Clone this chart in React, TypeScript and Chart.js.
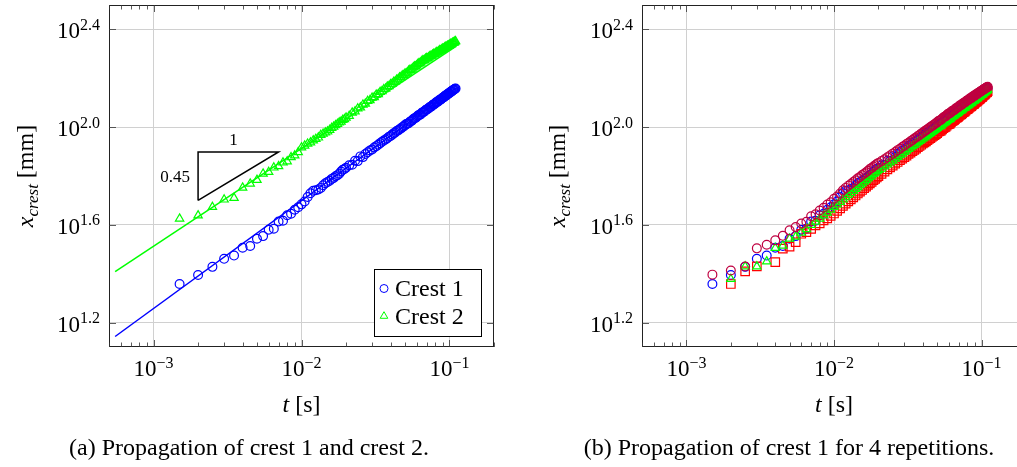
import React, { useEffect, useRef } from "react";
import { Chart, registerables } from "chart.js";

Chart.register(...registerables);

// ---------------- data ----------------
// frame times [ms]
const timesMs = [
  1.5, 2, 2.5, 3, 3.5, 4, 4.5, 5, 5.5, 6,
  6.5, 7, 7.5, 8, 8.5, 9, 9.5, 10, 10.5, 11,
  11.5, 12, 12.5, 13, 13.5, 14, 14.5, 15, 15.5, 16,
  16.5, 17, 17.5, 18, 18.5, 19, 19.5, 20, 21, 22,
  23, 24, 25, 26, 27, 28, 29, 30, 31, 32,
  33, 34, 35, 36, 37, 38, 39, 40, 41, 42,
  43, 44, 45, 46, 47, 48, 49, 50, 51, 52,
  53, 54, 55, 56, 57, 58, 59, 60, 61, 62,
  63, 64, 65, 66, 67, 68, 69, 70, 71, 72,
  73, 74, 75, 76, 77, 78, 79, 80, 81, 82,
  83, 84, 85, 86, 87, 88, 89, 90, 91, 92,
  93, 94, 95, 96, 97, 98, 99, 100, 101, 102,
  103, 104, 105, 106, 107, 108, 109, 110,
];

// crest 1 position [mm] (also repetition 1 in panel b)
const crest1Mm = [
  22.8, 24.8, 26.8, 28.9, 29.8, 32.1, 32.6, 34.9, 35.8, 38.0,
  38.4, 41.1, 41.4, 43.6, 44.2, 45.9, 47.0, 48.3, 49.6, 51.8,
  53.6, 54.9, 55.2, 55.6, 56.4, 57.8, 58.9, 59.6, 60.3, 61.4,
  62.0, 62.9, 63.6, 64.5, 65.8, 66.9, 67.4, 68.2, 69.8, 70.2,
  72.9, 72.6, 75.9, 75.4, 77.6, 78.9, 80.2, 81.0, 82.5, 83.6,
  84.7, 86.0, 87.1, 88.2, 89.0, 90.1, 91.4, 92.0, 93.2, 94.3,
  95.0, 96.4, 97.0, 98.1, 98.8, 100.0, 100.6, 101.9, 102.9, 103.2,
  103.8, 105.3, 105.7, 106.6, 108.0, 108.8, 109.1, 110.0, 111.4, 112.1,
  112.2, 113.0, 114.5, 115.1, 115.4, 116.2, 117.5, 118.1, 118.3, 119.2,
  120.4, 121.0, 121.3, 122.1, 123.3, 123.9, 124.0, 124.9, 126.1, 126.7,
  126.8, 127.6, 128.9, 129.3, 129.5, 130.4, 131.4, 131.9, 132.2, 133.0,
  134.1, 134.6, 134.8, 135.5, 136.6, 137.1, 137.3, 138.0, 139.1, 139.6,
  139.8, 140.5, 141.4, 141.9, 142.2, 142.9, 143.6, 144.0,
];

// crest 2 position [mm]
const crest2Mm = [
  42.2, 43.5, 47.1, 50.5, 51.3, 56.5, 58.7, 60.8, 64.5, 65.5,
  68.3, 69.2, 71.6, 72.4, 75.3, 76.5, 79.0, 82.6, 84.0, 85.5,
  86.6, 88.2, 89.4, 90.6, 92.8, 93.9, 95.0, 95.9, 97.4, 99.2,
  100.3, 101.8, 102.9, 104.4, 105.3, 106.9, 107.8, 109.3, 111.2, 114.6,
  116.0, 119.1, 120.3, 123.6, 124.6, 127.8, 128.7, 131.8, 132.6, 135.6,
  136.4, 139.3, 140.1, 142.9, 143.7, 146.4, 147.1, 149.8, 150.5, 153.1,
  153.7, 156.3, 156.9, 159.5, 160.0, 162.6, 163.1, 165.6, 166.0, 167.5,
  170.1, 171.4, 171.9, 173.2, 175.5, 177.0, 177.3, 178.7, 181.0, 182.4,
  182.6, 184.0, 186.2, 187.6, 187.3, 188.5, 190.4, 191.5, 191.2, 192.4,
  194.2, 195.4, 195.0, 196.2, 197.9, 199.1, 198.7, 199.9, 201.5, 202.7,
  202.3, 203.5, 205.0, 206.2, 205.7, 206.9, 208.4, 209.6, 209.1, 210.2,
  211.7, 212.9, 212.3, 213.5, 214.9, 216.1, 215.5, 216.7, 218.0, 219.2,
  218.6, 219.7, 221.0, 222.2, 221.6, 222.8, 224.0, 224.7,
];

// crest 1, repetition 2 [mm]
const rep2Mm = [
  null, 23.9, 26.9, 26.9, 28.2, 32.0, 32.7, 34.9, 35.6, 37.0,
  38.2, 39.8, 41.0, 42.2, 43.5, 44.6, 45.9, 47.1, 48.2, 49.4,
  50.5, 51.6, 52.7, 53.7, 54.8, 55.8, 56.8, 57.8, 58.8, 59.7,
  60.6, 61.6, 62.5, 63.4, 64.3, 65.1, 66.0, 66.8, 67.5, 69.0,
  70.3, 71.7, 72.9, 74.3, 75.5, 76.7, 77.9, 79.1, 80.2, 81.4,
  82.5, 83.6, 84.6, 85.7, 86.8, 87.8, 88.8, 89.8, 90.8, 91.7,
  92.7, 93.7, 94.6, 95.5, 96.4, 97.3, 98.2, 99.1, 100.2, 100.8,
  101.4, 102.5, 103.6, 104.3, 104.9, 105.9, 106.9, 107.5, 108.1, 109.2,
  110.2, 110.7, 111.3, 112.3, 113.3, 113.8, 114.3, 115.3, 116.3, 116.8,
  117.2, 118.2, 119.2, 119.7, 120.1, 121.1, 122.1, 122.5, 122.9, 123.8,
  124.8, 125.2, 125.6, 126.5, 127.5, 127.9, 128.3, 129.3, 130.2, 130.6,
  130.9, 131.9, 132.8, 133.2, 133.6, 134.5, 135.4, 135.8, 136.1, 137.1,
  138.1, 138.4, 138.8, 139.7, 140.7, 141.1, 141.5, 142.5,
];

// crest 1, repetition 3 [mm]
const rep3Mm = [
  null, 22.8, 25.7, 26.9, null, 28.0, 31.8, 32.4, 33.8, 36.6,
  37.2, 38.3, 39.6, 40.4, 41.5, 42.3, 43.3, 44.3, 45.4, 46.5,
  47.6, 48.6, 49.7, 50.6, 51.6, 52.5, 53.5, 54.4, 55.3, 56.2,
  57.1, 58.0, 58.9, 59.7, 60.6, 61.4, 62.2, 63.0, 64.4, 65.8,
  67.1, 68.4, 69.6, 70.9, 72.0, 73.2, 74.3, 75.4, 76.5, 77.7,
  78.7, 79.7, 80.7, 81.7, 82.8, 83.7, 84.7, 85.7, 86.6, 87.5,
  88.4, 89.4, 90.2, 91.1, 92.0, 92.8, 93.7, 94.5, 95.8, 96.3,
  96.8, 97.9, 99.1, 99.7, 100.2, 101.3, 102.5, 102.9, 103.4, 104.6,
  105.8, 106.2, 106.7, 107.8, 109.0, 109.4, 109.9, 111.0, 112.1, 112.5,
  112.9, 114.0, 115.2, 115.5, 115.9, 117.0, 118.2, 118.5, 118.9, 120.0,
  121.2, 121.4, 121.8, 122.8, 124.0, 124.2, 124.6, 125.7, 126.9, 127.1,
  127.4, 128.5, 129.7, 129.9, 130.2, 131.3, 132.5, 132.7, 133.1, 134.2,
  135.4, 135.7, 136.0, 137.2, 138.4, 138.7, 139.2, 140.5,
];

// crest 1, repetition 4 [mm]
const rep4Mm = [
  24.9, 25.9, 26.9, 31.9, 33.0, 34.4, 35.9, 37.8, 39.0, 40.3,
  41.0, 43.2, 44.0, 45.6, 46.8, 48.2, 49.3, 50.9, 52.0, 53.5,
  55.2, 56.4, 57.6, 58.5, 59.6, 60.6, 61.8, 62.5, 63.7, 64.5,
  65.4, 66.3, 67.4, 68.1, 69.0, 69.8, 70.6, 71.4, 72.6, 73.9,
  75.3, 76.6, 77.9, 79.1, 80.5, 81.6, 82.9, 84.0, 85.3, 86.3,
  87.6, 88.5, 89.8, 90.7, 91.9, 92.8, 94.1, 94.9, 96.1, 97.0,
  98.1, 99.0, 100.1, 100.9, 101.9, 102.8, 103.8, 104.6, 105.9, 106.5,
  107.0, 108.3, 109.6, 110.2, 110.7, 111.9, 113.1, 113.6, 114.1, 115.2,
  116.4, 116.8, 117.3, 118.4, 119.5, 119.9, 120.3, 121.4, 122.5, 122.9,
  123.2, 124.3, 125.4, 125.8, 126.1, 127.1, 128.2, 128.5, 128.9, 129.8,
  130.9, 131.1, 131.5, 132.4, 133.4, 133.7, 134.0, 134.9, 135.9, 136.1,
  136.5, 137.3, 138.3, 138.5, 138.9, 139.7, 140.6, 140.8, 141.2, 141.9,
  142.9, 143.0, 143.4, 144.1, 145.0, 145.2, 145.6, 146.2,
];

// power-law fits
const fitTimesMs = [0.55, 110];
const fitCrest1Mm = [13.9, 144.0];
const fitCrest2Mm = [25.6, 213.5];

// slope triangle
const slopeTriTimesMs = [2, 2, 7, 2];
const slopeTriMm = [50.1, 79.2, 79.2, 50.1];
const slopeRunLabel = "1";
const slopeRiseLabel = "0.45";

// axes
const xTickExponents = [-3, -2, -1];
const yTickExponents = [1.2, 1.6, 2.0, 2.4];
const xRangeSeconds = [5e-4, 0.2];
const yRangeExponents = [1.1, 2.5];

const legendLabels = ["Crest 1", "Crest 2"];
const captionA = "(a) Propagation of crest 1 and crest 2.";
const captionB = "(b) Propagation of crest 1 for 4 repetitions.";

// ---------------- styles ----------------
const BLUE = "#0000ff";
const GREEN = "#00ff00";
const RED = "#ff0000";
const PURPLE = "#bf0040";
const GRID = "#d0d0d0";
const SERIF = '"Liberation Serif", "Times New Roman", serif';
const TICK_FS = 23;
const SUP_FS = 16;
const SUP_RAISE = 8.5;
const TEXT_FS = 24;
const SUB_FS = 17;
const ANNOT_FS = 17;
const MARK_W = 1.2;

type Run = { text: string; size: number; italic?: boolean; dy?: number };

const fnt = (size: number, italic?: boolean) => `${italic ? "italic " : ""}${size}px ${SERIF}`;

function runsWidth(ctx: CanvasRenderingContext2D, runs: Run[]) {
  let w = 0;
  for (const r of runs) {
    ctx.font = fnt(r.size, r.italic);
    w += ctx.measureText(r.text).width;
  }
  return w;
}

function drawRuns(ctx: CanvasRenderingContext2D, runs: Run[], x: number, y: number, align: "left" | "center" | "right") {
  const w = runsWidth(ctx, runs);
  let cx = align === "left" ? x : align === "center" ? x - w / 2 : x - w;
  ctx.textAlign = "left";
  ctx.textBaseline = "alphabetic";
  for (const r of runs) {
    ctx.font = fnt(r.size, r.italic);
    ctx.fillText(r.text, cx, y + (r.dy || 0));
    cx += ctx.measureText(r.text).width;
  }
}

const powRuns = (exp: string): Run[] => [
  { text: "10", size: TICK_FS },
  { text: exp, size: SUP_FS, dy: -SUP_RAISE },
];

function toPoints(times: number[], vals: (number | null)[]) {
  const pts: { x: number; y: number }[] = [];
  times.forEach((t, i) => {
    const v = vals[i];
    if (v !== null && v !== undefined) pts.push({ x: t / 1000, y: v });
  });
  return pts;
}

function markerSet(label: string, vals: (number | null)[], color: string, style: string, radius: number) {
  return {
    label,
    data: toPoints(timesMs, vals),
    showLine: false,
    pointStyle: style,
    pointRadius: radius,
    pointHoverRadius: radius,
    pointBorderWidth: MARK_W,
    pointBorderColor: color,
    pointBackgroundColor: "rgba(0,0,0,0)",
    borderColor: color,
    backgroundColor: "rgba(0,0,0,0)",
  };
}

function lineSet(label: string, ts: number[], vals: number[], color: string, width: number) {
  return {
    label,
    data: toPoints(ts, vals),
    showLine: true,
    pointRadius: 0,
    pointHoverRadius: 0,
    borderColor: color,
    borderWidth: width,
    backgroundColor: "rgba(0,0,0,0)",
    fill: false,
    tension: 0,
    borderJoinStyle: "miter",
  };
}

interface LegendItem { label: string; color: string; style: "circle" | "triangle" }
interface DecorOpts { yTitleBaseX: number; caption: string; captionX: number; legend?: LegendItem[]; slope?: boolean }

function decor(o: DecorOpts) {
  return {
    id: "decor",
    afterDatasetsDraw(chart: any) {
      const ctx: CanvasRenderingContext2D = chart.ctx;
      const { left, right, top, bottom } = chart.chartArea;
      const xs = chart.scales.x;
      const ys = chart.scales.y;
      ctx.save();
      ctx.fillStyle = "#000";

      if (o.slope) {
        const xl = xs.getPixelForValue(slopeTriTimesMs[0] / 1000);
        const xr = xs.getPixelForValue(slopeTriTimesMs[2] / 1000);
        const yt = ys.getPixelForValue(slopeTriMm[1]);
        const yb = ys.getPixelForValue(slopeTriMm[0]);
        drawRuns(ctx, [{ text: slopeRunLabel, size: ANNOT_FS }], xl + (xr - xl) * 0.44, yt - 7, "center");
        drawRuns(ctx, [{ text: slopeRiseLabel, size: ANNOT_FS }], xl - 8, (yt + yb) / 2 + 6, "right");
      }

      if (o.legend) {
        const bw = 107, bh = 67;
        const bx0 = Math.round(right - 13 - bw);
        const by0 = Math.round(bottom - 11 - bh);
        ctx.fillStyle = "#fff";
        ctx.fillRect(bx0, by0, bw, bh);
        ctx.strokeStyle = "#000";
        ctx.lineWidth = 1;
        ctx.strokeRect(bx0 + 0.5, by0 + 0.5, bw, bh);
        o.legend.forEach((it, i) => {
          const base = by0 + 27 + i * 27.6;
          const mx = bx0 + 10, my = base - 7.5;
          ctx.strokeStyle = it.color;
          ctx.lineWidth = 1;
          ctx.beginPath();
          if (it.style === "circle") {
            ctx.arc(mx, my, 4, 0, Math.PI * 2);
          } else {
            const r = 4.4;
            ctx.moveTo(mx, my - r);
            ctx.lineTo(mx + r * 0.866, my + r * 0.5);
            ctx.lineTo(mx - r * 0.866, my + r * 0.5);
            ctx.closePath();
          }
          ctx.stroke();
          ctx.fillStyle = "#000";
          drawRuns(ctx, [{ text: it.label, size: TEXT_FS }], bx0 + 21, base, "left");
        });
      }

      // frame
      const L = Math.round(left), R = Math.round(right), T = Math.round(top), B = Math.round(bottom);
      ctx.strokeStyle = "#222";
      ctx.lineWidth = 1;
      ctx.strokeRect(L + 0.5, T + 0.5, R - L - 1, B - T - 1);

      // tick marks
      ctx.strokeStyle = "#333";
      ctx.lineWidth = 0.8;
      const seg = (x1: number, y1: number, x2: number, y2: number) => {
        ctx.beginPath();
        ctx.moveTo(x1, y1);
        ctx.lineTo(x2, y2);
        ctx.stroke();
      };
      for (let k = -4; k <= -1; k++) {
        for (let m = 1; m <= 9; m++) {
          const v = m * Math.pow(10, k);
          if (v < xs.min || v > xs.max) continue;
          const px = Math.round(xs.getPixelForValue(v)) + 0.5;
          const len = m === 1 ? 7 : 4.5;
          seg(px, B, px, B - len);
          seg(px, T, px, T + len);
        }
      }
      for (const e of yTickExponents) {
        const py = Math.round(ys.getPixelForValue(Math.pow(10, e))) + 0.5;
        seg(L, py, L + 7, py);
        seg(R, py, R - 7, py);
      }

      // tick labels
      ctx.fillStyle = "#000";
      for (const e of xTickExponents) {
        const px = xs.getPixelForValue(Math.pow(10, e));
        drawRuns(ctx, powRuns("\u2212" + Math.abs(e)), px, B + 29, "center");
      }
      for (const e of yTickExponents) {
        const py = ys.getPixelForValue(Math.pow(10, e));
        drawRuns(ctx, powRuns(e.toFixed(1)), L - 9, py + 9, "right");
      }

      // axis titles
      drawRuns(
        ctx,
        [
          { text: "t", size: TEXT_FS, italic: true },
          { text: " [s]", size: TEXT_FS },
        ],
        (L + R) / 2,
        B + 65,
        "center"
      );
      ctx.save();
      ctx.translate(o.yTitleBaseX, (T + B) / 2);
      ctx.rotate(-Math.PI / 2);
      drawRuns(
        ctx,
        [
          { text: "x", size: TEXT_FS, italic: true },
          { text: "crest", size: SUB_FS, italic: true, dy: 4.5 },
          { text: " [mm]", size: TEXT_FS },
        ],
        0,
        0,
        "center"
      );
      ctx.restore();

      // caption
      drawRuns(ctx, [{ text: o.caption, size: TEXT_FS }], o.captionX, 455, "center");
      ctx.restore();
    },
  };
}

function scales() {
  return {
    x: {
      type: "logarithmic",
      min: xRangeSeconds[0],
      max: xRangeSeconds[1],
      bounds: "data",
      afterBuildTicks: (s: any) => {
        s.ticks = xTickExponents.map((e) => ({ value: Math.pow(10, e) }));
      },
      ticks: { display: false },
      grid: { color: GRID, lineWidth: 1, drawTicks: false },
      border: { display: false },
    },
    y: {
      type: "logarithmic",
      min: Math.pow(10, yRangeExponents[0]),
      max: Math.pow(10, yRangeExponents[1]),
      bounds: "data",
      afterBuildTicks: (s: any) => {
        s.ticks = yTickExponents.map((e) => ({ value: Math.pow(10, e) }));
      },
      ticks: { display: false },
      grid: { color: GRID, lineWidth: 1, drawTicks: false },
      border: { display: false },
    },
  };
}

function baseOptions(padding: any) {
  return {
    animation: false,
    responsive: false,
    maintainAspectRatio: false,
    devicePixelRatio: 1,
    events: [],
    layout: { padding, autoPadding: false },
    plugins: { legend: { display: false }, tooltip: { enabled: false }, title: { display: false } },
    scales: scales(),
  };
}

export default function App() {
  const leftRef = useRef<HTMLCanvasElement>(null);
  const rightRef = useRef<HTMLCanvasElement>(null);

  useEffect(() => {
    const left = new Chart(leftRef.current as HTMLCanvasElement, {
      type: "scatter",
      data: {
        datasets: [
          lineSet("slope", slopeTriTimesMs, slopeTriMm, "#000", 1.5),
          lineSet("fit crest 1", fitTimesMs, fitCrest1Mm, BLUE, 1.5),
          lineSet("fit crest 2", fitTimesMs, fitCrest2Mm, GREEN, 1.5),
          markerSet(legendLabels[1], crest2Mm, GREEN, "triangle", 4.8),
          markerSet(legendLabels[0], crest1Mm, BLUE, "circle", 4.4),
        ] as any,
      },
      options: baseOptions({ left: 109, top: 5, right: 26, bottom: 120 }) as any,
      plugins: [
        decor({
          yTitleBaseX: 33,
          caption: captionA,
          captionX: 249,
          slope: true,
          legend: [
            { label: legendLabels[0], color: BLUE, style: "circle" },
            { label: legendLabels[1], color: GREEN, style: "triangle" },
          ],
        }),
      ],
    });

    const right = new Chart(rightRef.current as HTMLCanvasElement, {
      type: "scatter",
      data: {
        datasets: [
          markerSet("Repetition 4", rep4Mm, PURPLE, "circle", 4.4),
          markerSet("Repetition 2", rep2Mm, GREEN, "triangle", 4.8),
          markerSet("Repetition 3", rep3Mm, RED, "rect", 6),
          markerSet("Repetition 1", crest1Mm, BLUE, "circle", 4.4),
        ] as any,
      },
      options: baseOptions({ left: 122, top: 5, right: 24, bottom: 120 }) as any,
      plugins: [decor({ yTitleBaseX: 45, caption: captionB, captionX: 269 })],
    });

    return () => {
      left.destroy();
      right.destroy();
    };
  }, []);

  return (
    <div
      style={{
        position: "fixed",
        left: 0,
        top: 0,
        width: 1017,
        height: 467,
        overflow: "hidden",
        background: "#fff",
      }}
    >
      <canvas
        ref={leftRef}
        width={520}
        height={467}
        style={{ position: "absolute", left: 0, top: 0, width: 520, height: 467 }}
      />
      <canvas
        ref={rightRef}
        width={530}
        height={467}
        style={{ position: "absolute", left: 520, top: 0, width: 530, height: 467 }}
      />
    </div>
  );
}
